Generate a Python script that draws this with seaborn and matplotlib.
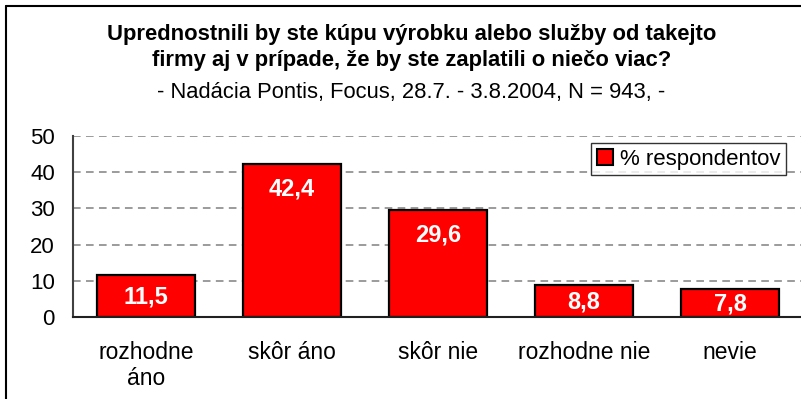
import matplotlib
matplotlib.use("Agg")
import matplotlib.pyplot as plt
from matplotlib.lines import Line2D
from matplotlib.patches import Patch
import seaborn as sns
import pandas as pd

categories = ["rozhodne\náno", "skôr áno", "skôr nie", "rozhodne nie", "nevie"]
values = [11.5, 42.4, 29.6, 8.8, 7.8]
value_labels = ["11,5", "42,4", "29,6", "8,8", "7,8"]
y_ticks = [0, 10, 20, 30, 40, 50]
series_name = "% respondentov"
title_lines = ["Uprednostnili by ste kúpu výrobku alebo služby od takejto",
               "firmy aj v prípade, že by ste zaplatili o niečo viac?"]
subtitle = "- Nadácia Pontis, Focus, 28.7. - 3.8.2004, N = 943, -"

sns.set_style("white")
plt.rcParams["font.family"] = ["Liberation Sans", "DejaVu Sans"]
plt.rcParams["text.color"] = "black"
plt.rcParams["xtick.color"] = "black"
plt.rcParams["ytick.color"] = "black"
plt.rcParams["axes.labelcolor"] = "black"

W, H = 801, 399
fig = plt.figure(figsize=(W / 100, H / 100), dpi=100)
fig.patch.set_facecolor("white")

# plot area in pixels: x 73..803, y 136..317
ax = fig.add_axes([73 / W, 1 - 317 / H, (803 - 73) / W, (317 - 136) / H])

df = pd.DataFrame({"cat": categories, "val": values})
sns.barplot(data=df, x="cat", y="val", ax=ax, color="#FF0000",
            edgecolor="black", linewidth=1.6, width=0.67, saturation=1)

ax.set_xlim(-0.5, len(categories) - 0.5)
ax.set_ylim(0, 50)
ax.set_yticks(y_ticks)
ax.set_yticklabels([str(t) for t in y_ticks], fontsize=16, color="black")
ax.set_xlabel("")
ax.set_ylabel("")

# dashed grid behind the bars
ax.set_axisbelow(True)
ax.yaxis.grid(True, color="#808080", linestyle=(0, (5, 3.5)), linewidth=1.1)
ax.xaxis.grid(False)

# category labels without tick marks, boundary ticks as minor ticks
ax.set_xticks(range(len(categories)))
ax.set_xticklabels(categories, fontsize=16.5, linespacing=1.2, color="black")
ax.tick_params(axis="x", which="major", length=0, pad=17)
ax.set_xticks([i - 0.5 for i in range(len(categories) + 1)], minor=True)
ax.tick_params(axis="x", which="minor", length=6, width=1.2, color="#606060",
               direction="out")
ax.tick_params(axis="y", length=6, width=1.2, color="#404040", direction="out",
               pad=7)

for side in ["top", "right"]:
    ax.spines[side].set_visible(False)
ax.spines["left"].set_color("#404040")
ax.spines["bottom"].set_color("#202020")
ax.spines["left"].set_linewidth(1.5)
ax.spines["bottom"].set_linewidth(1.5)

# value labels inside the bars
px_per_unit = (317 - 136) / 50
for i, (v, lab) in enumerate(zip(values, value_labels)):
    h_px = v * px_per_unit
    off_px = min(25, h_px / 2 + 1)
    ax.annotate(lab, xy=(i, v), xytext=(0, -off_px * 0.72),
                textcoords="offset points", ha="center", va="center",
                color="white", fontweight="bold", fontsize=17)

# legend
handle = Patch(facecolor="#FF0000", edgecolor="black", linewidth=1.5)
leg = ax.legend([handle], [series_name], loc="upper right",
                bbox_to_anchor=((786 - 73) / (803 - 73), (317 - 143) / (317 - 136)),
                fontsize=16, frameon=True, fancybox=False, borderpad=0.25,
                handlelength=0.75, handleheight=0.75, handletextpad=0.3,
                borderaxespad=0)
leg.get_frame().set_edgecolor("black")
leg.get_frame().set_linewidth(1.0)
for t in leg.get_texts():
    t.set_color("black")

# titles
fig.text(412 / W, 1 - 40 / H, title_lines[0], ha="center", va="baseline",
         fontsize=15.8, fontweight="bold", color="black")
fig.text(412 / W, 1 - 66 / H, title_lines[1], ha="center", va="baseline",
         fontsize=15.8, fontweight="bold", color="black")
fig.text(411 / W, 1 - 98 / H, subtitle, ha="center", va="baseline",
         fontsize=15.8, color="black")

# outer chart frame
fig.add_artist(Line2D([6 / W, 6 / W], [0, 1 - 6 / H], color="black", lw=1.5,
                      transform=fig.transFigure))
fig.add_artist(Line2D([6 / W, 1], [1 - 6 / H, 1 - 6 / H], color="black", lw=1.5,
                      transform=fig.transFigure))

fig.savefig("out.png", dpi=100)
